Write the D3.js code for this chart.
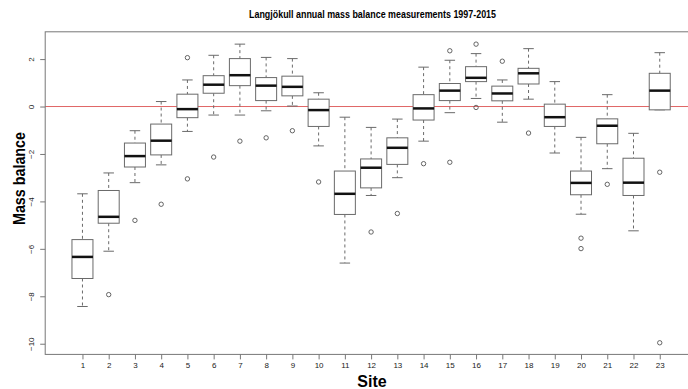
<!DOCTYPE html>
<html><head><meta charset="utf-8">
<script src="https://cdn.jsdelivr.net/npm/d3@7"></script>
<style>body{margin:0;background:#fff}svg{display:block}text{font-family:"Liberation Sans",Arial,sans-serif}</style>
</head><body><svg id="c" width="688" height="389"></svg>
<script>
const sites = d3.range(1, 24);
const whiskerLow = [-8.43,-6.10,-3.21,-2.46,-1.05,-0.36,-0.36,-0.18,0.02,-1.66,-6.60,-3.75,-3.00,-1.46,-0.26,0.34,-0.66,0.31,-1.96,-4.54,-2.62,-5.24,-0.14];
const q1 =         [-7.25,-4.92,-2.55,-2.04,-0.47,0.56,0.88,0.25,0.45,-0.84,-4.55,-3.43,-2.44,-0.57,0.25,1.05,0.24,0.95,-0.84,-3.72,-1.57,-3.75,-0.14];
const medians =    [-6.34,-4.65,-2.09,-1.44,-0.11,0.92,1.32,0.88,0.83,-0.15,-3.68,-2.58,-1.74,-0.08,0.67,1.21,0.55,1.40,-0.45,-3.22,-0.81,-3.21,0.67];
const q3 =         [-5.61,-3.54,-1.54,-0.74,0.52,1.30,2.02,1.22,1.28,0.31,-2.72,-2.21,-1.32,0.50,0.97,1.68,0.86,1.61,0.10,-2.72,-0.52,-2.18,1.40];
const whiskerHigh =[-3.68,-2.80,-1.02,0.21,1.12,2.16,2.63,2.07,2.02,0.58,-0.45,-0.88,-0.53,1.66,1.95,2.23,1.12,2.44,1.05,-1.30,0.50,-1.13,2.27];
const outliers = [[],[-7.93],[-4.80],[-4.12],[2.06,-3.05],[-2.13],[-1.46],[-1.32],[-1.02],[-3.18],[],[-5.29],[-4.51],[-2.41],[2.35,-2.35],[2.63,-0.04],[1.91],[-1.12],[],[-5.55,-5.99],[-3.28],[],[-2.77,-9.96]];
const yTicks = [2,0,-2,-4,-6,-8,-10];

const svg = d3.select("#c");
const pLeft = 45.2, pRight = 697, pTop = 31.8, pBottom = 354.4;
const x = d3.scaleLinear().domain([-0.42, 24.42]).range([pLeft, pRight]);
const y = d3.scaleLinear().domain([3.15, -10.45]).range([pTop, pBottom]);
const bw = (x(1) - x(0)) * 0.8;
const lineCol = "#6a6a6a";

// red zero line
svg.append("line").attr("x1", pLeft).attr("x2", pRight).attr("y1", y(0)).attr("y2", y(0))
  .attr("stroke", "#e06666").attr("stroke-width", 1);

const data = sites.map((s, i) => ({s, lo: whiskerLow[i], q1: q1[i], med: medians[i], q3: q3[i], hi: whiskerHigh[i], out: outliers[i]}));
const g = svg.append("g").selectAll("g").data(data).join("g");
g.append("line").attr("x1", d => x(d.s)).attr("x2", d => x(d.s)).attr("y1", d => y(d.hi)).attr("y2", d => y(d.q3))
  .attr("stroke", lineCol).attr("stroke-dasharray", "3,3");
g.append("line").attr("x1", d => x(d.s)).attr("x2", d => x(d.s)).attr("y1", d => y(d.q1)).attr("y2", d => y(d.lo))
  .attr("stroke", lineCol).attr("stroke-dasharray", "3,3");
g.append("line").attr("x1", d => x(d.s) - bw/4).attr("x2", d => x(d.s) + bw/4).attr("y1", d => y(d.hi)).attr("y2", d => y(d.hi)).attr("stroke", lineCol);
g.append("line").attr("x1", d => x(d.s) - bw/4).attr("x2", d => x(d.s) + bw/4).attr("y1", d => y(d.lo)).attr("y2", d => y(d.lo)).attr("stroke", lineCol);
g.append("rect").attr("x", d => x(d.s) - bw/2).attr("width", bw).attr("y", d => y(d.q3)).attr("height", d => y(d.q1) - y(d.q3))
  .attr("fill", "white").attr("stroke", lineCol).attr("stroke-width", 1);
g.append("line").attr("x1", d => x(d.s) - bw/2).attr("x2", d => x(d.s) + bw/2).attr("y1", d => y(d.med)).attr("y2", d => y(d.med))
  .attr("stroke", "#111").attr("stroke-width", 2.5);
g.selectAll("circle").data(d => d.out.map(v => ({s: d.s, v}))).join("circle")
  .attr("cx", d => x(d.s)).attr("cy", d => y(d.v)).attr("r", 2.2).attr("fill", "none").attr("stroke", "#555").attr("stroke-width", 0.9);

svg.append("rect").attr("x", pLeft).attr("y", pTop).attr("width", pRight - pLeft).attr("height", pBottom - pTop)
  .attr("fill", "none").attr("stroke", "#777").attr("stroke-width", 1);

const yAxis = svg.append("g").attr("transform", `translate(${pLeft},0)`)
  .call(d3.axisLeft(y).tickValues(yTicks).tickSize(5).tickFormat(d3.format("d")));
const xAxis = svg.append("g").attr("transform", `translate(0,${pBottom})`)
  .call(d3.axisBottom(x).tickValues(sites).tickSize(5).tickFormat(d3.format("d")));
[yAxis, xAxis].forEach(a => { a.select(".domain").remove(); a.selectAll(".tick line").attr("stroke", "#777"); });
xAxis.selectAll(".tick text").attr("font-size", 8).attr("fill", "#222").attr("dy", null).attr("y", 14);
yAxis.selectAll(".tick text").attr("font-size", 8).attr("fill", "#222")
  .attr("x", null).attr("dy", null).attr("text-anchor", "middle")
  .attr("transform", "translate(-11,0) rotate(-90)").attr("y", 0);

svg.append("text").attr("x", 249).attr("y", 18).attr("font-size", 10).attr("font-weight", "bold")
  .attr("textLength", 247).attr("lengthAdjust", "spacingAndGlyphs")
  .text("Langjökull annual mass balance measurements 1997-2015");
svg.append("text").attr("transform", "translate(25,178.5) rotate(-90)").attr("text-anchor", "middle")
  .attr("font-size", 16).attr("font-weight", "bold").attr("textLength", 93).attr("lengthAdjust", "spacingAndGlyphs")
  .text("Mass balance");
svg.append("text").attr("x", 372).attr("y", 387).attr("text-anchor", "middle")
  .attr("font-size", 16).attr("font-weight", "bold").text("Site");
</script></body></html>
